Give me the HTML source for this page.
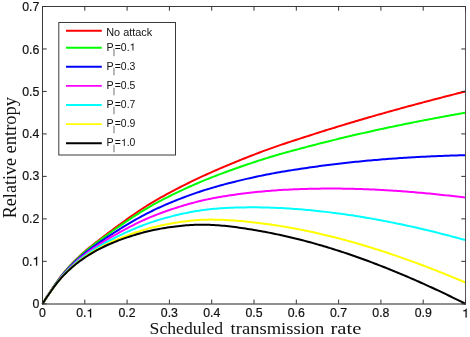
<!DOCTYPE html>
<html><head><meta charset="utf-8"><style>
html,body{margin:0;padding:0;background:#fff;}
svg{display:block;will-change:transform;}
text{font-family:"Liberation Sans",sans-serif;}
.s text{font-family:"Liberation Serif",serif;}
</style></head><body>
<svg width="470" height="337" viewBox="0 0 470 337">
<rect width="470" height="337" fill="#fff"/>
<g>
<polyline points="42.50,303.80 44.62,300.43 46.73,297.07 48.84,293.88 50.96,290.65 53.08,287.37 55.19,284.27 57.30,281.30 59.42,278.40 61.53,275.61 63.65,272.98 65.77,270.47 67.88,268.05 70.00,265.70 72.11,263.43 74.22,261.25 76.34,259.15 78.46,257.12 80.57,255.16 82.69,253.27 84.80,251.42 86.91,249.63 89.03,247.87 91.15,246.16 93.26,244.47 95.38,242.82 97.49,241.18 99.61,239.55 101.72,237.94 103.83,236.33 105.95,234.73 108.06,233.14 110.18,231.56 112.30,229.98 114.41,228.41 116.52,226.85 118.64,225.30 120.75,223.75 122.87,222.21 124.98,220.69 127.10,219.18 129.21,217.68 131.33,216.19 133.44,214.72 135.56,213.26 137.68,211.82 139.79,210.40 141.91,209.00 144.02,207.63 146.13,206.27 148.25,204.95 150.37,203.64 152.48,202.36 154.59,201.10 156.71,199.86 158.82,198.64 160.94,197.45 163.06,196.27 165.17,195.11 167.28,193.95 169.40,192.81 171.51,191.68 173.63,190.56 175.75,189.45 177.86,188.35 179.97,187.26 182.09,186.19 184.21,185.12 186.32,184.06 188.44,183.01 190.55,181.97 192.66,180.94 194.78,179.93 196.90,178.92 199.01,177.92 201.12,176.93 203.24,175.95 205.35,174.98 207.47,174.02 209.59,173.07 211.70,172.13 213.81,171.19 215.93,170.26 218.04,169.34 220.16,168.43 222.28,167.52 224.39,166.62 226.50,165.73 228.62,164.84 230.74,163.96 232.85,163.08 234.97,162.21 237.08,161.35 239.20,160.49 241.31,159.64 243.42,158.80 245.54,157.96 247.66,157.12 249.77,156.29 251.88,155.47 254.00,154.65 256.12,153.83 258.23,153.03 260.35,152.23 262.46,151.43 264.58,150.65 266.69,149.87 268.81,149.11 270.92,148.35 273.04,147.60 275.15,146.85 277.26,146.12 279.38,145.39 281.50,144.67 283.61,143.96 285.73,143.26 287.84,142.56 289.95,141.86 292.07,141.17 294.19,140.48 296.30,139.79 298.41,139.10 300.53,138.42 302.64,137.73 304.76,137.05 306.88,136.37 308.99,135.69 311.11,135.01 313.22,134.34 315.33,133.66 317.45,132.99 319.56,132.32 321.68,131.65 323.80,130.98 325.91,130.32 328.03,129.66 330.14,129.01 332.25,128.35 334.37,127.70 336.48,127.05 338.60,126.40 340.71,125.76 342.83,125.11 344.94,124.47 347.06,123.83 349.18,123.20 351.29,122.56 353.40,121.93 355.52,121.30 357.63,120.68 359.75,120.05 361.87,119.43 363.98,118.81 366.10,118.19 368.21,117.58 370.32,116.97 372.44,116.36 374.56,115.75 376.67,115.14 378.79,114.54 380.90,113.94 383.02,113.34 385.13,112.75 387.25,112.15 389.36,111.56 391.47,110.97 393.59,110.38 395.70,109.79 397.82,109.21 399.94,108.63 402.05,108.05 404.17,107.47 406.28,106.89 408.39,106.32 410.51,105.75 412.62,105.18 414.74,104.61 416.86,104.04 418.97,103.48 421.08,102.91 423.20,102.35 425.31,101.79 427.43,101.23 429.55,100.67 431.66,100.12 433.78,99.57 435.89,99.01 438.00,98.46 440.12,97.91 442.23,97.37 444.35,96.82 446.46,96.28 448.58,95.73 450.69,95.19 452.81,94.65 454.93,94.11 457.04,93.58 459.15,93.04 461.27,92.51 463.38,91.97 465.50,91.44" fill="none" stroke="#ff0000" stroke-width="2" stroke-linejoin="round"/>
<polyline points="42.50,303.80 44.62,300.44 46.73,297.10 48.84,293.92 50.96,290.71 53.08,287.45 55.19,284.38 57.30,281.44 59.42,278.57 61.53,275.81 63.65,273.21 65.77,270.74 67.88,268.36 70.00,266.05 72.11,263.82 74.22,261.67 76.34,259.61 78.46,257.62 80.57,255.70 82.69,253.85 84.80,252.04 86.91,250.29 89.03,248.58 91.15,246.90 93.26,245.26 95.38,243.65 97.49,242.06 99.61,240.48 101.72,238.92 103.83,237.37 105.95,235.83 108.06,234.31 110.18,232.79 112.30,231.28 114.41,229.78 116.52,228.29 118.64,226.81 120.75,225.34 122.87,223.88 124.98,222.43 127.10,221.00 129.21,219.58 131.33,218.18 133.44,216.78 135.56,215.40 137.68,214.04 139.79,212.71 141.91,211.39 144.02,210.09 146.13,208.82 148.25,207.58 150.37,206.35 152.48,205.15 154.59,203.97 156.71,202.81 158.82,201.68 160.94,200.56 163.06,199.47 165.17,198.38 167.28,197.31 169.40,196.25 171.51,195.21 173.63,194.17 175.75,193.15 177.86,192.13 179.97,191.13 182.09,190.14 184.21,189.16 186.32,188.18 188.44,187.22 190.55,186.27 192.66,185.34 194.78,184.41 196.90,183.50 199.01,182.59 201.12,181.70 203.24,180.82 205.35,179.95 207.47,179.09 209.59,178.24 211.70,177.40 213.81,176.57 215.93,175.75 218.04,174.94 220.16,174.13 222.28,173.34 224.39,172.55 226.50,171.76 228.62,170.99 230.74,170.22 232.85,169.46 234.97,168.70 237.08,167.95 239.20,167.21 241.31,166.47 243.42,165.74 245.54,165.02 247.66,164.30 249.77,163.59 251.88,162.88 254.00,162.18 256.12,161.48 258.23,160.79 260.35,160.11 262.46,159.43 264.58,158.77 266.69,158.11 268.81,157.46 270.92,156.82 273.04,156.19 275.15,155.56 277.26,154.94 279.38,154.33 281.50,153.73 283.61,153.14 285.73,152.55 287.84,151.97 289.95,151.39 292.07,150.82 294.19,150.25 296.30,149.68 298.41,149.12 300.53,148.55 302.64,147.99 304.76,147.43 306.88,146.88 308.99,146.32 311.11,145.77 313.22,145.22 315.33,144.67 317.45,144.13 319.56,143.58 321.68,143.04 323.80,142.50 325.91,141.97 328.03,141.44 330.14,140.92 332.25,140.39 334.37,139.87 336.48,139.35 338.60,138.84 340.71,138.33 342.83,137.82 344.94,137.31 347.06,136.81 349.18,136.31 351.29,135.81 353.40,135.31 355.52,134.82 357.63,134.33 359.75,133.84 361.87,133.36 363.98,132.88 366.10,132.40 368.21,131.93 370.32,131.46 372.44,130.99 374.56,130.52 376.67,130.06 378.79,129.59 380.90,129.14 383.02,128.68 385.13,128.23 387.25,127.78 389.36,127.33 391.47,126.88 393.59,126.44 395.70,126.00 397.82,125.56 399.94,125.12 402.05,124.69 404.17,124.26 406.28,123.83 408.39,123.40 410.51,122.98 412.62,122.56 414.74,122.14 416.86,121.72 418.97,121.31 421.08,120.89 423.20,120.48 425.31,120.07 427.43,119.67 429.55,119.26 431.66,118.86 433.78,118.46 435.89,118.06 438.00,117.66 440.12,117.27 442.23,116.87 444.35,116.48 446.46,116.10 448.58,115.71 450.69,115.32 452.81,114.94 454.93,114.56 457.04,114.18 459.15,113.80 461.27,113.43 463.38,113.05 465.50,112.68" fill="none" stroke="#00ff00" stroke-width="2" stroke-linejoin="round"/>
<polyline points="42.50,303.80 44.62,300.46 46.73,297.14 48.84,294.00 50.96,290.83 53.08,287.62 55.19,284.60 57.30,281.72 59.42,278.91 61.53,276.21 63.65,273.69 65.77,271.29 67.88,268.98 70.00,266.74 72.11,264.59 74.22,262.52 76.34,260.53 78.46,258.62 80.57,256.78 82.69,255.01 84.80,253.28 86.91,251.61 89.03,249.98 91.15,248.39 93.26,246.83 95.38,245.31 97.49,243.82 99.61,242.35 101.72,240.89 103.83,239.46 105.95,238.04 108.06,236.63 110.18,235.25 112.30,233.87 114.41,232.52 116.52,231.17 118.64,229.84 120.75,228.52 122.87,227.22 124.98,225.92 127.10,224.65 129.21,223.39 131.33,222.14 133.44,220.91 135.56,219.69 137.68,218.50 139.79,217.32 141.91,216.16 144.02,215.03 146.13,213.92 148.25,212.84 150.37,211.77 152.48,210.73 154.59,209.72 156.71,208.72 158.82,207.75 160.94,206.80 163.06,205.86 165.17,204.94 167.28,204.04 169.40,203.14 171.51,202.26 173.63,201.39 175.75,200.54 177.86,199.69 179.97,198.86 182.09,198.04 184.21,197.23 186.32,196.43 188.44,195.65 190.55,194.88 192.66,194.12 194.78,193.38 196.90,192.66 199.01,191.94 201.12,191.25 203.24,190.56 205.35,189.89 207.47,189.23 209.59,188.59 211.70,187.96 213.81,187.34 215.93,186.73 218.04,186.13 220.16,185.54 222.28,184.97 224.39,184.39 226.50,183.83 228.62,183.28 230.74,182.74 232.85,182.20 234.97,181.67 237.08,181.15 239.20,180.64 241.31,180.13 243.42,179.63 245.54,179.14 247.66,178.65 249.77,178.17 251.88,177.70 254.00,177.23 256.12,176.77 258.23,176.32 260.35,175.87 262.46,175.43 264.58,175.00 266.69,174.58 268.81,174.17 270.92,173.76 273.04,173.37 275.15,172.98 277.26,172.60 279.38,172.22 281.50,171.86 283.61,171.50 285.73,171.15 287.84,170.80 289.95,170.46 292.07,170.12 294.19,169.79 296.30,169.47 298.41,169.14 300.53,168.82 302.64,168.51 304.76,168.19 306.88,167.89 308.99,167.58 311.11,167.28 313.22,166.98 315.33,166.69 317.45,166.39 319.56,166.11 321.68,165.82 323.80,165.55 325.91,165.27 328.03,165.00 330.14,164.74 332.25,164.48 334.37,164.22 336.48,163.96 338.60,163.71 340.71,163.47 342.83,163.23 344.94,162.99 347.06,162.76 349.18,162.53 351.29,162.30 353.40,162.08 355.52,161.86 357.63,161.64 359.75,161.43 361.87,161.22 363.98,161.02 366.10,160.82 368.21,160.62 370.32,160.43 372.44,160.24 374.56,160.06 376.67,159.88 378.79,159.70 380.90,159.53 383.02,159.36 385.13,159.19 387.25,159.02 389.36,158.86 391.47,158.71 393.59,158.55 395.70,158.40 397.82,158.26 399.94,158.11 402.05,157.97 404.17,157.84 406.28,157.70 408.39,157.57 410.51,157.44 412.62,157.32 414.74,157.20 416.86,157.08 418.97,156.97 421.08,156.85 423.20,156.74 425.31,156.64 427.43,156.53 429.55,156.43 431.66,156.34 433.78,156.24 435.89,156.15 438.00,156.06 440.12,155.97 442.23,155.89 444.35,155.81 446.46,155.73 448.58,155.66 450.69,155.58 452.81,155.51 454.93,155.45 457.04,155.38 459.15,155.32 461.27,155.26 463.38,155.20 465.50,155.15" fill="none" stroke="#0000ff" stroke-width="2" stroke-linejoin="round"/>
<polyline points="42.50,303.80 44.62,300.47 46.73,297.18 48.84,294.08 50.96,290.95 53.08,287.79 55.19,284.82 57.30,282.00 59.42,279.25 61.53,276.62 63.65,274.16 65.77,271.83 67.88,269.59 70.00,267.43 72.11,265.36 74.22,263.36 76.34,261.45 78.46,259.62 80.57,257.86 82.69,256.17 84.80,254.52 86.91,252.93 89.03,251.38 91.15,249.87 93.26,248.41 95.38,246.98 97.49,245.58 99.61,244.21 101.72,242.86 103.83,241.54 105.95,240.24 108.06,238.96 110.18,237.71 112.30,236.47 114.41,235.25 116.52,234.05 118.64,232.87 120.75,231.70 122.87,230.55 124.98,229.41 127.10,228.30 129.21,227.19 131.33,226.11 133.44,225.04 135.56,223.98 137.68,222.95 139.79,221.93 141.91,220.94 144.02,219.97 146.13,219.02 148.25,218.10 150.37,217.20 152.48,216.32 154.59,215.46 156.71,214.63 158.82,213.82 160.94,213.03 163.06,212.26 165.17,211.50 167.28,210.76 169.40,210.03 171.51,209.32 173.63,208.62 175.75,207.93 177.86,207.26 179.97,206.59 182.09,205.94 184.21,205.31 186.32,204.68 188.44,204.08 190.55,203.48 192.66,202.91 194.78,202.36 196.90,201.82 199.01,201.29 201.12,200.79 203.24,200.30 205.35,199.83 207.47,199.37 209.59,198.93 211.70,198.51 213.81,198.10 215.93,197.71 218.04,197.33 220.16,196.95 222.28,196.59 224.39,196.24 226.50,195.90 228.62,195.58 230.74,195.26 232.85,194.95 234.97,194.65 237.08,194.36 239.20,194.07 241.31,193.80 243.42,193.53 245.54,193.27 247.66,193.01 249.77,192.76 251.88,192.52 254.00,192.29 256.12,192.06 258.23,191.84 260.35,191.63 262.46,191.43 264.58,191.24 266.69,191.05 268.81,190.88 270.92,190.71 273.04,190.55 275.15,190.39 277.26,190.25 279.38,190.11 281.50,189.98 283.61,189.86 285.73,189.74 287.84,189.63 289.95,189.53 292.07,189.43 294.19,189.34 296.30,189.25 298.41,189.17 300.53,189.09 302.64,189.02 304.76,188.96 306.88,188.90 308.99,188.84 311.11,188.79 313.22,188.74 315.33,188.70 317.45,188.66 319.56,188.63 321.68,188.61 323.80,188.59 325.91,188.57 328.03,188.56 330.14,188.56 332.25,188.56 334.37,188.56 336.48,188.57 338.60,188.59 340.71,188.61 342.83,188.64 344.94,188.67 347.06,188.70 349.18,188.74 351.29,188.79 353.40,188.84 355.52,188.89 357.63,188.95 359.75,189.02 361.87,189.09 363.98,189.16 366.10,189.24 368.21,189.32 370.32,189.41 372.44,189.50 374.56,189.60 376.67,189.70 378.79,189.81 380.90,189.92 383.02,190.03 385.13,190.15 387.25,190.27 389.36,190.40 391.47,190.53 393.59,190.67 395.70,190.81 397.82,190.95 399.94,191.10 402.05,191.26 404.17,191.41 406.28,191.57 408.39,191.74 410.51,191.91 412.62,192.08 414.74,192.26 416.86,192.44 418.97,192.63 421.08,192.81 423.20,193.01 425.31,193.20 427.43,193.40 429.55,193.61 431.66,193.81 433.78,194.03 435.89,194.24 438.00,194.46 440.12,194.68 442.23,194.91 444.35,195.14 446.46,195.37 448.58,195.61 450.69,195.85 452.81,196.09 454.93,196.34 457.04,196.59 459.15,196.84 461.27,197.10 463.38,197.36 465.50,197.62" fill="none" stroke="#ff00ff" stroke-width="2" stroke-linejoin="round"/>
<polyline points="42.50,303.80 44.62,300.49 46.73,297.22 48.84,294.16 50.96,291.07 53.08,287.95 55.19,285.04 57.30,282.27 59.42,279.59 61.53,277.02 63.65,274.63 65.77,272.37 67.88,270.21 70.00,268.13 72.11,266.13 74.22,264.21 76.34,262.38 78.46,260.62 80.57,258.94 82.69,257.32 84.80,255.76 86.91,254.25 89.03,252.78 91.15,251.36 93.26,249.98 95.38,248.64 97.49,247.34 99.61,246.07 101.72,244.83 103.83,243.62 105.95,242.44 108.06,241.29 110.18,240.16 112.30,239.06 114.41,237.99 116.52,236.93 118.64,235.90 120.75,234.88 122.87,233.88 124.98,232.90 127.10,231.94 129.21,231.00 131.33,230.07 133.44,229.16 135.56,228.27 137.68,227.40 139.79,226.54 141.91,225.71 144.02,224.90 146.13,224.12 148.25,223.36 150.37,222.62 152.48,221.90 154.59,221.21 156.71,220.54 158.82,219.89 160.94,219.26 163.06,218.65 165.17,218.06 167.28,217.48 169.40,216.92 171.51,216.37 173.63,215.84 175.75,215.32 177.86,214.82 179.97,214.33 182.09,213.85 184.21,213.38 186.32,212.93 188.44,212.50 190.55,212.09 192.66,211.70 194.78,211.33 196.90,210.98 199.01,210.64 201.12,210.33 203.24,210.04 205.35,209.77 207.47,209.51 209.59,209.28 211.70,209.06 213.81,208.87 215.93,208.69 218.04,208.52 220.16,208.37 222.28,208.22 224.39,208.09 226.50,207.97 228.62,207.87 230.74,207.78 232.85,207.69 234.97,207.62 237.08,207.56 239.20,207.50 241.31,207.46 243.42,207.42 245.54,207.39 247.66,207.37 249.77,207.35 251.88,207.34 254.00,207.35 256.12,207.35 258.23,207.37 260.35,207.39 262.46,207.43 264.58,207.47 266.69,207.52 268.81,207.58 270.92,207.65 273.04,207.73 275.15,207.81 277.26,207.90 279.38,208.00 281.50,208.10 283.61,208.22 285.73,208.34 287.84,208.46 289.95,208.59 292.07,208.73 294.19,208.88 296.30,209.04 298.41,209.20 300.53,209.36 302.64,209.54 304.76,209.72 306.88,209.91 308.99,210.10 311.11,210.30 313.22,210.50 315.33,210.72 317.45,210.93 319.56,211.16 321.68,211.39 323.80,211.63 325.91,211.87 328.03,212.12 330.14,212.38 332.25,212.64 334.37,212.91 336.48,213.19 338.60,213.47 340.71,213.75 342.83,214.05 344.94,214.35 347.06,214.65 349.18,214.96 351.29,215.28 353.40,215.60 355.52,215.93 357.63,216.26 359.75,216.60 361.87,216.95 363.98,217.30 366.10,217.66 368.21,218.02 370.32,218.39 372.44,218.76 374.56,219.14 376.67,219.52 378.79,219.91 380.90,220.31 383.02,220.71 385.13,221.11 387.25,221.52 389.36,221.94 391.47,222.36 393.59,222.79 395.70,223.22 397.82,223.65 399.94,224.09 402.05,224.54 404.17,224.99 406.28,225.45 408.39,225.91 410.51,226.37 412.62,226.84 414.74,227.32 416.86,227.80 418.97,228.29 421.08,228.77 423.20,229.27 425.31,229.77 427.43,230.27 429.55,230.78 431.66,231.29 433.78,231.81 435.89,232.33 438.00,232.86 440.12,233.39 442.23,233.92 444.35,234.46 446.46,235.01 448.58,235.55 450.69,236.11 452.81,236.66 454.93,237.22 457.04,237.79 459.15,238.36 461.27,238.93 463.38,239.51 465.50,240.09" fill="none" stroke="#00ffff" stroke-width="2" stroke-linejoin="round"/>
<polyline points="42.50,303.80 44.62,300.50 46.73,297.27 48.84,294.23 50.96,291.19 53.08,288.12 55.19,285.26 57.30,282.55 59.42,279.93 61.53,277.43 63.65,275.11 65.77,272.92 67.88,270.83 70.00,268.82 72.11,266.90 74.22,265.06 76.34,263.30 78.46,261.63 80.57,260.02 82.69,258.48 84.80,257.00 86.91,255.57 89.03,254.18 91.15,252.85 93.26,251.56 95.38,250.31 97.49,249.10 99.61,247.93 101.72,246.80 103.83,245.71 105.95,244.65 108.06,243.62 110.18,242.62 112.30,241.66 114.41,240.72 116.52,239.81 118.64,238.93 120.75,238.06 122.87,237.22 124.98,236.39 127.10,235.59 129.21,234.81 131.33,234.04 133.44,233.29 135.56,232.56 137.68,231.85 139.79,231.16 141.91,230.48 144.02,229.84 146.13,229.21 148.25,228.61 150.37,228.04 152.48,227.49 154.59,226.95 156.71,226.45 158.82,225.96 160.94,225.49 163.06,225.05 165.17,224.62 167.28,224.21 169.40,223.81 171.51,223.43 173.63,223.06 175.75,222.71 177.86,222.38 179.97,222.06 182.09,221.75 184.21,221.46 186.32,221.18 188.44,220.93 190.55,220.69 192.66,220.48 194.78,220.30 196.90,220.13 199.01,219.99 201.12,219.87 203.24,219.78 205.35,219.70 207.47,219.65 209.59,219.62 211.70,219.62 213.81,219.63 215.93,219.67 218.04,219.71 220.16,219.78 222.28,219.85 224.39,219.94 226.50,220.05 228.62,220.16 230.74,220.30 232.85,220.44 234.97,220.60 237.08,220.76 239.20,220.94 241.31,221.12 243.42,221.31 245.54,221.51 247.66,221.72 249.77,221.94 251.88,222.17 254.00,222.40 256.12,222.64 258.23,222.90 260.35,223.16 262.46,223.43 264.58,223.71 266.69,224.00 268.81,224.29 270.92,224.59 273.04,224.91 275.15,225.22 277.26,225.55 279.38,225.88 281.50,226.23 283.61,226.57 285.73,226.93 287.84,227.29 289.95,227.66 292.07,228.04 294.19,228.43 296.30,228.82 298.41,229.22 300.53,229.63 302.64,230.05 304.76,230.48 306.88,230.91 308.99,231.36 311.11,231.81 313.22,232.27 315.33,232.73 317.45,233.20 319.56,233.68 321.68,234.17 323.80,234.67 325.91,235.17 328.03,235.68 330.14,236.20 332.25,236.72 334.37,237.26 336.48,237.80 338.60,238.34 340.71,238.90 342.83,239.46 344.94,240.02 347.06,240.60 349.18,241.18 351.29,241.77 353.40,242.36 355.52,242.96 357.63,243.57 359.75,244.19 361.87,244.81 363.98,245.44 366.10,246.07 368.21,246.71 370.32,247.36 372.44,248.02 374.56,248.68 376.67,249.34 378.79,250.02 380.90,250.70 383.02,251.38 385.13,252.07 387.25,252.77 389.36,253.47 391.47,254.18 393.59,254.90 395.70,255.62 397.82,256.35 399.94,257.08 402.05,257.82 404.17,258.57 406.28,259.32 408.39,260.08 410.51,260.84 412.62,261.61 414.74,262.38 416.86,263.16 418.97,263.95 421.08,264.74 423.20,265.53 425.31,266.33 427.43,267.14 429.55,267.95 431.66,268.77 433.78,269.59 435.89,270.42 438.00,271.26 440.12,272.10 442.23,272.94 444.35,273.79 446.46,274.64 448.58,275.50 450.69,276.37 452.81,277.24 454.93,278.11 457.04,278.99 459.15,279.88 461.27,280.77 463.38,281.66 465.50,282.56" fill="none" stroke="#ffff00" stroke-width="2" stroke-linejoin="round"/>
<polyline points="42.50,303.80 44.62,300.51 46.73,297.29 48.84,294.27 50.96,291.25 53.08,288.21 55.19,285.37 57.30,282.69 59.42,280.10 61.53,277.63 63.65,275.34 65.77,273.19 67.88,271.14 70.00,269.17 72.11,267.28 74.22,265.48 76.34,263.76 78.46,262.13 80.57,260.56 82.69,259.06 84.80,257.62 86.91,256.23 89.03,254.88 91.15,253.59 93.26,252.34 95.38,251.14 97.49,249.98 99.61,248.87 101.72,247.79 103.83,246.75 105.95,245.75 108.06,244.78 110.18,243.85 112.30,242.96 114.41,242.09 116.52,241.26 118.64,240.44 120.75,239.65 122.87,238.89 124.98,238.14 127.10,237.41 129.21,236.71 131.33,236.02 133.44,235.35 135.56,234.70 137.68,234.07 139.79,233.46 141.91,232.87 144.02,232.31 146.13,231.76 148.25,231.24 150.37,230.75 152.48,230.28 154.59,229.83 156.71,229.40 158.82,228.99 160.94,228.61 163.06,228.24 165.17,227.90 167.28,227.57 169.40,227.25 171.51,226.96 173.63,226.67 175.75,226.41 177.86,226.16 179.97,225.92 182.09,225.70 184.21,225.50 186.32,225.31 188.44,225.14 190.55,225.00 192.66,224.88 194.78,224.78 196.90,224.71 199.01,224.67 201.12,224.65 203.24,224.65 205.35,224.67 207.47,224.72 209.59,224.80 211.70,224.89 213.81,225.02 215.93,225.16 218.04,225.31 220.16,225.48 222.28,225.67 224.39,225.87 226.50,226.08 228.62,226.31 230.74,226.56 232.85,226.81 234.97,227.08 237.08,227.36 239.20,227.65 241.31,227.95 243.42,228.26 245.54,228.58 247.66,228.90 249.77,229.24 251.88,229.58 254.00,229.93 256.12,230.29 258.23,230.66 260.35,231.04 262.46,231.43 264.58,231.83 266.69,232.23 268.81,232.64 270.92,233.07 273.04,233.50 275.15,233.93 277.26,234.38 279.38,234.83 281.50,235.29 283.61,235.75 285.73,236.23 287.84,236.71 289.95,237.20 292.07,237.69 294.19,238.20 296.30,238.71 298.41,239.24 300.53,239.77 302.64,240.31 304.76,240.86 306.88,241.42 308.99,241.99 311.11,242.56 313.22,243.15 315.33,243.74 317.45,244.34 319.56,244.95 321.68,245.56 323.80,246.19 325.91,246.82 328.03,247.46 330.14,248.11 332.25,248.77 334.37,249.43 336.48,250.10 338.60,250.78 340.71,251.47 342.83,252.16 344.94,252.86 347.06,253.57 349.18,254.29 351.29,255.01 353.40,255.74 355.52,256.48 357.63,257.23 359.75,257.98 361.87,258.74 363.98,259.51 366.10,260.28 368.21,261.06 370.32,261.85 372.44,262.65 374.56,263.45 376.67,264.25 378.79,265.07 380.90,265.89 383.02,266.72 385.13,267.55 387.25,268.40 389.36,269.24 391.47,270.10 393.59,270.96 395.70,271.83 397.82,272.70 399.94,273.58 402.05,274.46 404.17,275.36 406.28,276.26 408.39,277.16 410.51,278.07 412.62,278.99 414.74,279.91 416.86,280.84 418.97,281.78 421.08,282.72 423.20,283.66 425.31,284.62 427.43,285.57 429.55,286.54 431.66,287.51 433.78,288.49 435.89,289.47 438.00,290.46 440.12,291.45 442.23,292.45 444.35,293.45 446.46,294.46 448.58,295.48 450.69,296.50 452.81,297.53 454.93,298.56 457.04,299.60 459.15,300.64 461.27,301.69 463.38,302.74 465.50,303.80" fill="none" stroke="#000000" stroke-width="2" stroke-linejoin="round"/>
</g>
<g stroke="#3a3a3a" stroke-width="1"><line x1="42.5" y1="6" x2="42.5" y2="304.5"/><line x1="42" y1="6.5" x2="466" y2="6.5"/><line x1="465.5" y1="6" x2="465.5" y2="304.5" stroke="#555"/><line x1="42" y1="304" x2="466" y2="304" stroke="#222"/></g>
<g stroke="#333" stroke-width="1">
<line x1="42.50" y1="303.80" x2="42.50" y2="299.60"/>
<line x1="42.50" y1="6.50" x2="42.50" y2="10.70"/>
<line x1="84.80" y1="303.80" x2="84.80" y2="299.60"/>
<line x1="84.80" y1="6.50" x2="84.80" y2="10.70"/>
<line x1="127.10" y1="303.80" x2="127.10" y2="299.60"/>
<line x1="127.10" y1="6.50" x2="127.10" y2="10.70"/>
<line x1="169.40" y1="303.80" x2="169.40" y2="299.60"/>
<line x1="169.40" y1="6.50" x2="169.40" y2="10.70"/>
<line x1="211.70" y1="303.80" x2="211.70" y2="299.60"/>
<line x1="211.70" y1="6.50" x2="211.70" y2="10.70"/>
<line x1="254.00" y1="303.80" x2="254.00" y2="299.60"/>
<line x1="254.00" y1="6.50" x2="254.00" y2="10.70"/>
<line x1="296.30" y1="303.80" x2="296.30" y2="299.60"/>
<line x1="296.30" y1="6.50" x2="296.30" y2="10.70"/>
<line x1="338.60" y1="303.80" x2="338.60" y2="299.60"/>
<line x1="338.60" y1="6.50" x2="338.60" y2="10.70"/>
<line x1="380.90" y1="303.80" x2="380.90" y2="299.60"/>
<line x1="380.90" y1="6.50" x2="380.90" y2="10.70"/>
<line x1="423.20" y1="303.80" x2="423.20" y2="299.60"/>
<line x1="423.20" y1="6.50" x2="423.20" y2="10.70"/>
<line x1="465.50" y1="303.80" x2="465.50" y2="299.60"/>
<line x1="465.50" y1="6.50" x2="465.50" y2="10.70"/>
<line x1="42.50" y1="303.80" x2="46.70" y2="303.80"/>
<line x1="465.50" y1="303.80" x2="461.30" y2="303.80"/>
<line x1="42.50" y1="261.33" x2="46.70" y2="261.33"/>
<line x1="465.50" y1="261.33" x2="461.30" y2="261.33"/>
<line x1="42.50" y1="218.86" x2="46.70" y2="218.86"/>
<line x1="465.50" y1="218.86" x2="461.30" y2="218.86"/>
<line x1="42.50" y1="176.39" x2="46.70" y2="176.39"/>
<line x1="465.50" y1="176.39" x2="461.30" y2="176.39"/>
<line x1="42.50" y1="133.91" x2="46.70" y2="133.91"/>
<line x1="465.50" y1="133.91" x2="461.30" y2="133.91"/>
<line x1="42.50" y1="91.44" x2="46.70" y2="91.44"/>
<line x1="465.50" y1="91.44" x2="461.30" y2="91.44"/>
<line x1="42.50" y1="48.97" x2="46.70" y2="48.97"/>
<line x1="465.50" y1="48.97" x2="461.30" y2="48.97"/>
<line x1="42.50" y1="6.50" x2="46.70" y2="6.50"/>
<line x1="465.50" y1="6.50" x2="461.30" y2="6.50"/>
</g>
<g font-size="12.3" fill="#111" stroke="#111" stroke-width="0.2">
<text x="42.50" y="317.4" text-anchor="middle">0</text>
<text x="76.25" y="317.4">0.</text>
<path transform="translate(86.51,317.40) scale(0.01230,-0.01230)" d="M373 0L285 0L285 505L102 505L102 568C222 574 283 603 314 709L373 709Z" stroke-width="16.3"/>
<text x="127.10" y="317.4" text-anchor="middle">0.2</text>
<text x="169.40" y="317.4" text-anchor="middle">0.3</text>
<text x="211.70" y="317.4" text-anchor="middle">0.4</text>
<text x="254.00" y="317.4" text-anchor="middle">0.5</text>
<text x="296.30" y="317.4" text-anchor="middle">0.6</text>
<text x="338.60" y="317.4" text-anchor="middle">0.7</text>
<text x="380.90" y="317.4" text-anchor="middle">0.8</text>
<text x="423.20" y="317.4" text-anchor="middle">0.9</text>
<path transform="translate(462.08,317.40) scale(0.01230,-0.01230)" d="M373 0L285 0L285 505L102 505L102 568C222 574 283 603 314 709L373 709Z" stroke-width="16.3"/>
<text x="39.4" y="308.00" text-anchor="end">0</text>
<text x="32.56" y="265.53" text-anchor="end">0.</text>
<path transform="translate(32.56,265.53) scale(0.01230,-0.01230)" d="M373 0L285 0L285 505L102 505L102 568C222 574 283 603 314 709L373 709Z" stroke-width="16.3"/>
<text x="39.4" y="223.26" text-anchor="end">0.2</text>
<text x="39.4" y="180.29" text-anchor="end">0.3</text>
<text x="39.4" y="138.21" text-anchor="end">0.4</text>
<text x="39.4" y="96.14" text-anchor="end">0.5</text>
<text x="39.4" y="53.67" text-anchor="end">0.6</text>
<text x="39.4" y="11.20" text-anchor="end">0.7</text>
</g>
<rect x="58.8" y="22.5" width="116.7" height="132.5" fill="#fff" stroke="#3a3a3a" stroke-width="1"/>
<g font-size="10.7" fill="#111">
<line x1="66" y1="30.80" x2="101.8" y2="30.80" stroke="#ff0000" stroke-width="1.9"/>
<text x="106.2" y="35.70" font-size="10.9">No attack</text>
<line x1="66" y1="47.70" x2="101.8" y2="47.70" stroke="#00ff00" stroke-width="1.9"/>
<text x="106.4" y="50.60">P</text>
<text x="113.0" y="56.30" font-size="8.6" fill="#888" stroke="#888" stroke-width="0.3">l</text>
<text x="114.80" y="50.60" font-size="10.4">=0.</text>
<path transform="translate(129.55,50.60) scale(0.01040,-0.01040)" d="M373 0L285 0L285 505L102 505L102 568C222 574 283 603 314 709L373 709Z" stroke-width="19.2"/>
<line x1="66" y1="66.80" x2="101.8" y2="66.80" stroke="#0000ff" stroke-width="1.9"/>
<text x="106.4" y="69.70">P</text>
<text x="113.0" y="75.40" font-size="8.6" fill="#888" stroke="#888" stroke-width="0.3">l</text>
<text x="114.80" y="69.70" font-size="10.4">=0.3</text>
<line x1="66" y1="85.90" x2="101.8" y2="85.90" stroke="#ff00ff" stroke-width="1.9"/>
<text x="106.4" y="88.80">P</text>
<text x="113.0" y="94.50" font-size="8.6" fill="#888" stroke="#888" stroke-width="0.3">l</text>
<text x="114.80" y="88.80" font-size="10.4">=0.5</text>
<line x1="66" y1="105.00" x2="101.8" y2="105.00" stroke="#00ffff" stroke-width="1.9"/>
<text x="106.4" y="107.90">P</text>
<text x="113.0" y="113.60" font-size="8.6" fill="#888" stroke="#888" stroke-width="0.3">l</text>
<text x="114.80" y="107.90" font-size="10.4">=0.7</text>
<line x1="66" y1="124.10" x2="101.8" y2="124.10" stroke="#ffff00" stroke-width="1.9"/>
<text x="106.4" y="127.00">P</text>
<text x="113.0" y="132.70" font-size="8.6" fill="#888" stroke="#888" stroke-width="0.3">l</text>
<text x="114.80" y="127.00" font-size="10.4">=0.9</text>
<line x1="66" y1="143.20" x2="101.8" y2="143.20" stroke="#000000" stroke-width="1.9"/>
<text x="106.4" y="146.10">P</text>
<text x="113.0" y="151.80" font-size="8.6" fill="#888" stroke="#888" stroke-width="0.3">l</text>
<text x="114.80" y="146.10" font-size="10.4">=</text>
<path transform="translate(120.87,146.10) scale(0.01040,-0.01040)" d="M373 0L285 0L285 505L102 505L102 568C222 574 283 603 314 709L373 709Z" stroke-width="19.2"/>
<text x="126.66" y="146.10" font-size="10.4">.0</text>
</g>
<g class="s" font-size="17.6" fill="#111">
<text x="149.6" y="334.3" textLength="73.6" lengthAdjust="spacingAndGlyphs">Scheduled</text>
<text x="230.6" y="334.3" textLength="93.8" lengthAdjust="spacingAndGlyphs">transmission</text>
<text x="330.4" y="334.3" textLength="30.9" lengthAdjust="spacingAndGlyphs">rate</text>
<text transform="translate(15.7,218.2) rotate(-90)" font-size="18.3" textLength="60.2" lengthAdjust="spacingAndGlyphs">Relative</text>
<text transform="translate(15.7,153.5) rotate(-90)" font-size="18.3" textLength="56.6" lengthAdjust="spacingAndGlyphs">entropy</text>
</g>

</svg>
</body></html>
